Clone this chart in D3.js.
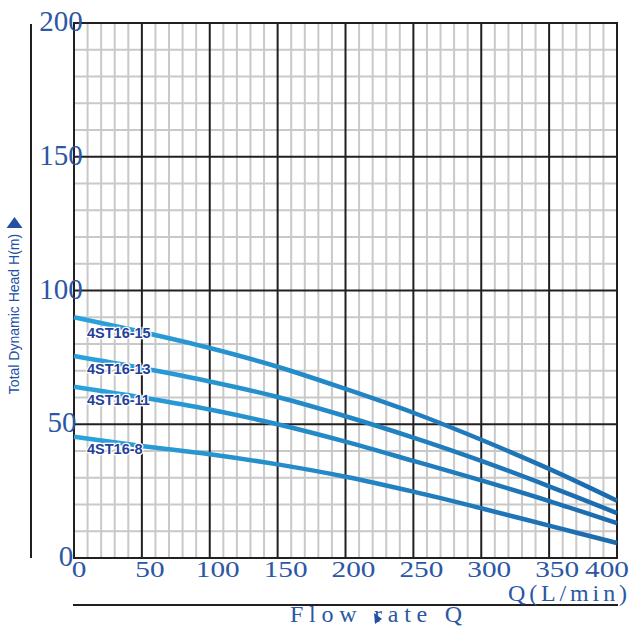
<!DOCTYPE html>
<html>
<head>
<meta charset="utf-8">
<script src="https://cdn.jsdelivr.net/npm/d3@7"></script>
<style>
  body { margin: 0; background: #fff; }
  svg { display: block; }
</style>
</head>
<body>
<script>
// data
var flow = [0, 50, 100, 150, 200, 250, 300, 350, 400];
var head15 = [90, 84.5, 78.5, 71.5, 63.2, 54.3, 44.2, 33.3, 21.4];
var head13 = [75.5, 71, 66, 60.2, 53, 45, 36.3, 26.8, 16.8];
var head11 = [64, 60, 55.5, 50, 43.5, 36.3, 29, 21.3, 13];
var head8 = [45.3, 41.9, 38.8, 35, 30.4, 24.8, 18.6, 12.1, 5.6];
var pumpNames = ["4ST16-15", "4ST16-13", "4ST16-11", "4ST16-8"];
var xTicks = [0, 50, 100, 150, 200, 250, 300, 350, 400];
var yTicks = [0, 50, 100, 150, 200];

var W = 637, H = 627;
var x = d3.scaleLinear().domain([0, 400]).range([74, 617]);
var y = d3.scaleLinear().domain([0, 200]).range([558, 23]);

var tickBlue = "#2b57a5";
var dark = "#231f20";

var svg = d3.select("body").append("svg")
    .attr("width", W)
    .attr("height", H);

// gradient for the curves (light on the left, darker on the right)
var grad = svg.append("defs").append("linearGradient")
    .attr("id", "curveGrad")
    .attr("gradientUnits", "userSpaceOnUse")
    .attr("x1", x(0)).attr("x2", x(400))
    .attr("y1", 0).attr("y2", 0);
grad.append("stop").attr("offset", "0%").attr("stop-color", "#2aa3dc");
grad.append("stop").attr("offset", "100%").attr("stop-color", "#1b6aae");

// minor grid
var minorX = d3.range(0, 401, 10).filter(function (d) { return d % 50 != 0; });
var minorY = d3.range(0, 201, 10).filter(function (d) { return d % 50 != 0; });

svg.append("g").selectAll("line")
    .data(minorX).enter().append("line")
    .attr("x1", d => x(d)).attr("x2", d => x(d))
    .attr("y1", y(0)).attr("y2", y(200))
    .attr("stroke", "#c9c9c9").attr("stroke-width", 2);

svg.append("g").selectAll("line")
    .data(minorY).enter().append("line")
    .attr("x1", x(0)).attr("x2", x(400))
    .attr("y1", d => y(d)).attr("y2", d => y(d))
    .attr("stroke", "#c9c9c9").attr("stroke-width", 2);

// major grid
svg.append("g").selectAll("line")
    .data(xTicks).enter().append("line")
    .attr("x1", d => x(d)).attr("x2", d => x(d))
    .attr("y1", y(0) + 1).attr("y2", y(200) - 1)
    .attr("stroke", dark).attr("stroke-width", 2);

svg.append("g").selectAll("line")
    .data(yTicks).enter().append("line")
    .attr("x1", x(0) - 1).attr("x2", x(400) + 1)
    .attr("y1", d => y(d)).attr("y2", d => y(d))
    .attr("stroke", dark).attr("stroke-width", 2);

// curves
var series = [head15, head13, head11, head8];
var line = d3.line()
    .x((d, i) => x(flow[i]))
    .y(d => y(d))
    .curve(d3.curveCatmullRom.alpha(0.5));

svg.append("g").selectAll("path")
    .data(series).enter().append("path")
    .attr("d", line)
    .attr("fill", "none")
    .attr("stroke", "url(#curveGrad)")
    .attr("stroke-width", 4.5);

// curve labels
var labelOffsets = [21, 18, 18, 17];
svg.append("g").selectAll("text")
    .data(series).enter().append("text")
    .attr("x", x(0) + 13)
    .attr("y", (d, i) => y(d[0]) + labelOffsets[i])
    .text((d, i) => pumpNames[i])
    .attr("font-family", "Liberation Sans, Arial, sans-serif")
    .attr("font-weight", "bold")
    .attr("font-size", 14.5)
    .attr("fill", "#22409a")
    .attr("stroke", "#fff")
    .attr("stroke-width", 2.5)
    .attr("paint-order", "stroke");

// y tick labels
svg.append("g").selectAll("text")
    .data(yTicks).enter().append("text")
    .attr("x", d => d == 0 ? 66 : (d == 50 ? 62 : 61))
    .attr("y", d => y(d) + 8)
    .attr("text-anchor", "middle")
    .attr("font-family", "Liberation Serif, Times New Roman, serif")
    .attr("font-size", 29)
    .attr("fill", tickBlue)
    .text(d => d);

// x tick labels (wide serif digits)
svg.append("g").selectAll("text")
    .data(xTicks).enter().append("text")
    .attr("transform", function (d) {
        var cx = d == 0 ? x(d) + 5 : Math.min(x(d) + 8, 607);
        return "translate(" + cx + "," + (y(0) + 19) + ") scale(1.22,1)";
    })
    .attr("text-anchor", "middle")
    .attr("font-family", "Liberation Serif, Times New Roman, serif")
    .attr("font-size", 24)
    .attr("fill", tickBlue)
    .text(d => d);

// left axis rule and y title
svg.append("line")
    .attr("x1", 31).attr("x2", 31)
    .attr("y1", 24).attr("y2", 558)
    .attr("stroke", dark).attr("stroke-width", 2);

svg.append("text")
    .attr("transform", "translate(19,314) rotate(-90)")
    .attr("text-anchor", "middle")
    .attr("font-family", "Liberation Sans, Arial, sans-serif")
    .attr("font-size", 14)
    .attr("fill", "#2350a3")
    .text("Total Dynamic Head H(m)");

svg.append("path")
    .attr("d", "M14.5,217 L22.5,228 L6.5,228 Z")
    .attr("fill", "#2350a3");

// bottom rule and x titles
svg.append("line")
    .attr("x1", 73).attr("x2", 618)
    .attr("y1", 605).attr("y2", 605)
    .attr("stroke", dark).attr("stroke-width", 2);

svg.append("text")
    .attr("x", 508).attr("y", 601)
    .attr("textLength", 119)
    .attr("lengthAdjust", "spacing")
    .attr("font-family", "Liberation Serif, Times New Roman, serif")
    .attr("font-size", 24)
    .attr("fill", tickBlue)
    .text("Q(L/min)");

svg.append("text")
    .attr("x", 290).attr("y", 622)
    .attr("textLength", 172)
    .attr("lengthAdjust", "spacing")
    .attr("font-family", "Liberation Serif, Times New Roman, serif")
    .attr("font-size", 24)
    .attr("fill", tickBlue)
    .text("Flow  rate Q");

svg.append("path")
    .attr("d", "M374,613 L382,619 L375,624 Z")
    .attr("fill", "#2350a3");
</script>
</body>
</html>
